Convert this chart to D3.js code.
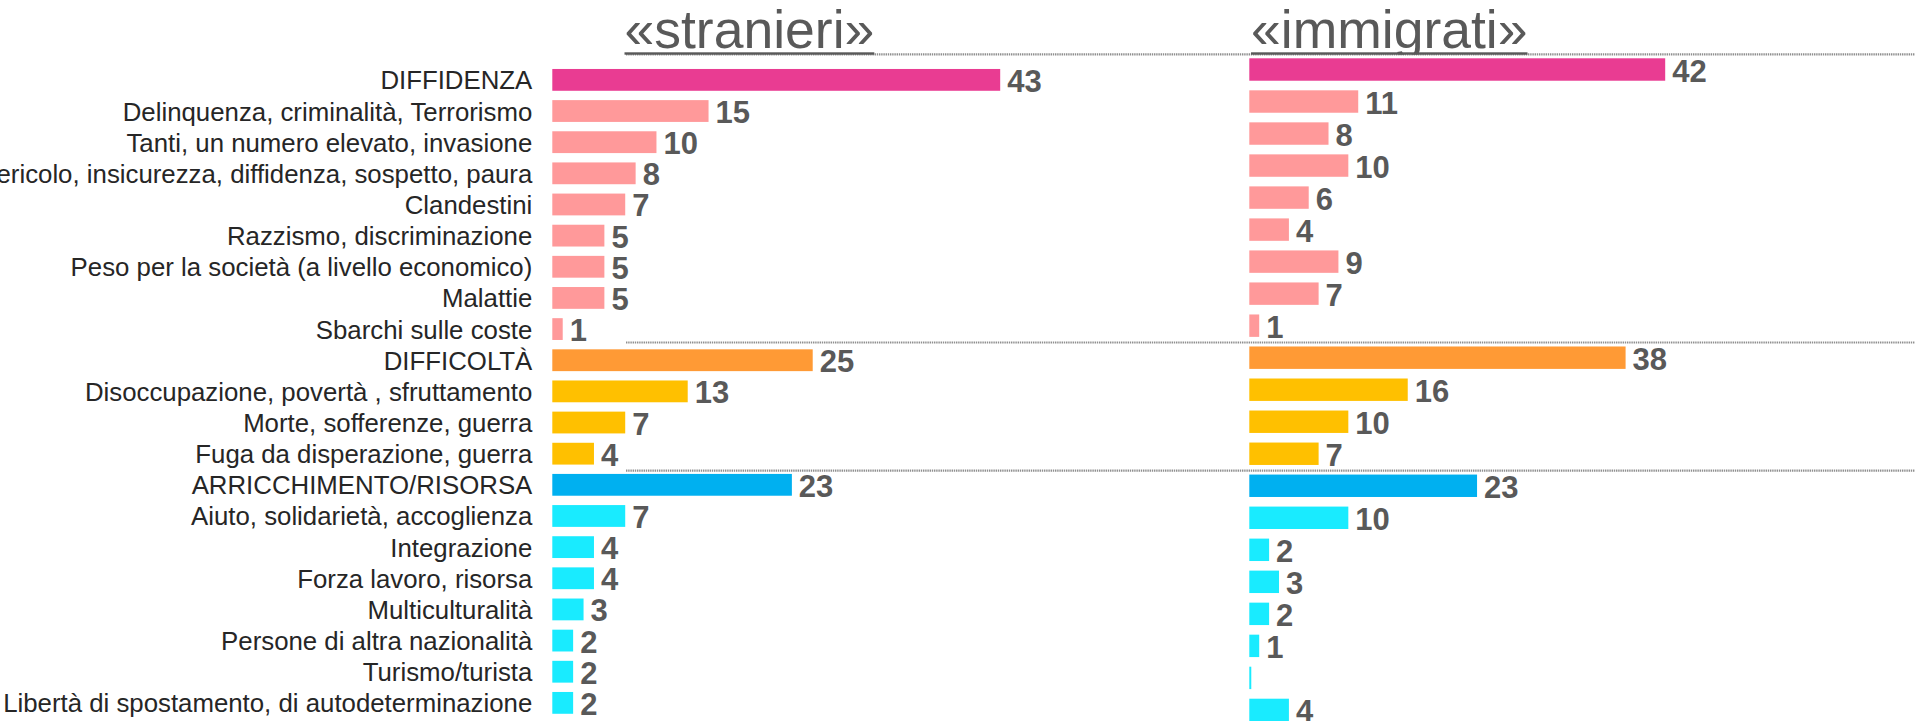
<!DOCTYPE html>
<html><head><meta charset="utf-8">
<script src="https://cdn.jsdelivr.net/npm/d3@7"></script>
<style>html,body{margin:0;padding:0;background:#fff;overflow:hidden;} svg{display:block;}</style>
</head><body>
<svg id="chart" width="1915" height="721"></svg>
<script>
// ---------- DATA ----------
const categories = [
  "DIFFIDENZA",
  "Delinquenza, criminalità, Terrorismo",
  "Tanti, un numero elevato, invasione",
  "Pericolo, insicurezza, diffidenza, sospetto, paura",
  "Clandestini",
  "Razzismo, discriminazione",
  "Peso per la società (a livello economico)",
  "Malattie",
  "Sbarchi sulle coste",
  "DIFFICOLTÀ",
  "Disoccupazione, povertà , sfruttamento",
  "Morte, sofferenze, guerra",
  "Fuga da disperazione, guerra",
  "ARRICCHIMENTO/RISORSA",
  "Aiuto, solidarietà, accoglienza",
  "Integrazione",
  "Forza lavoro, risorsa",
  "Multiculturalità",
  "Persone di altra nazionalità",
  "Turismo/turista",
  "Libertà di spostamento, di autodeterminazione"
];
const categoryGroup = [
  "diffidenza-tot","diffidenza","diffidenza","diffidenza","diffidenza","diffidenza","diffidenza","diffidenza","diffidenza",
  "difficolta-tot","difficolta","difficolta","difficolta",
  "risorsa-tot","risorsa","risorsa","risorsa","risorsa","risorsa","risorsa","risorsa"
];
const seriesTitles = ["«stranieri»", "«immigrati»"];
const stranieri = [43,15,10,8,7,5,5,5,1,25,13,7,4,23,7,4,4,3,2,2,2];
const immigrati = [42,11,8,10,6,4,9,7,1,38,16,10,7,23,10,2,3,2,1,0.2,4];

// ---------- STYLE ----------
const groupColor = {
  "diffidenza-tot": "#E93C92",
  "diffidenza": "#FF999A",
  "difficolta-tot": "#FF9A35",
  "difficolta": "#FFC000",
  "risorsa-tot": "#00B0F0",
  "risorsa": "#19EBFF"
};
const FONT = "'Liberation Sans', Arial, sans-serif";

const svg = d3.select("#chart");
svg.append("defs").append("clipPath").attr("id","titleClip")
  .append("rect").attr("x",0).attr("y",0).attr("width",1915).attr("height",54.6);

const panels = [
  { values: stranieri, title: seriesTitles[0], x0: 552.3, x1: 1000.2, max: 43,
    y0: 64.3, step: 31.15, titleX: 624.5, showCats: true },
  { values: immigrati, title: seriesTitles[1], x0: 1249.3, x1: 1665.2, max: 42,
    y0: 53.5, step: 32.02, titleX: 1251, showCats: false }
];

const idx = d3.range(categories.length);

// separator dotted lines, based on right panel band boundaries
(function(){
  const p = panels[1];
  const y = d3.scaleBand().domain(idx)
    .range([p.y0, p.y0 + p.step * idx.length]).paddingInner(0.3).paddingOuter(0.15);
  const starts = idx.filter(i => categoryGroup[i].endsWith("-tot"));
  svg.append("g").selectAll("line").data(starts).join("line")
    .attr("x1", 626).attr("x2", 1915)
    .attr("y1", d => y(d) - 4).attr("y2", d => y(d) - 4)
    .attr("stroke", "#8f8f8f").attr("stroke-width", 2.2)
    .attr("stroke-dasharray", "1.4,0.8");
})();

panels.forEach(p => {
  const x = d3.scaleLinear().domain([0, p.max]).range([p.x0, p.x1]);
  const y = d3.scaleBand().domain(idx)
    .range([p.y0, p.y0 + p.step * idx.length]).paddingInner(0.3).paddingOuter(0.15);
  const g = svg.append("g");

  g.selectAll("rect.bar").data(idx).join("rect")
    .attr("class","bar")
    .attr("x", x(0))
    .attr("y", i => y(i))
    .attr("width", i => Math.max(0, x(p.values[i]) - x(0)))
    .attr("height", y.bandwidth())
    .attr("fill", i => groupColor[categoryGroup[i]]);

  g.selectAll("text.val").data(idx.filter(i => p.values[i] >= 0.5)).join("text")
    .attr("class","val")
    .attr("x", i => x(p.values[i]) + 7)
    .attr("y", i => y(i) + y.bandwidth()/2 + 12)
    .attr("font-family", FONT).attr("font-weight","bold")
    .attr("font-size", 31).attr("fill", "#595959")
    .text(i => d3.format("d")(Math.round(p.values[i])));

  if (p.showCats) {
    g.selectAll("text.cat").data(idx).join("text")
      .attr("class","cat")
      .attr("x", x(0) - 20)
      .attr("y", i => y(i) + y.bandwidth()/2 + 9.5)
      .attr("text-anchor","end")
      .attr("font-family", FONT).attr("font-size", 25.8).attr("fill", "#262626")
      .text(i => categories[i]);
  }

  const tg = svg.append("g").attr("clip-path","url(#titleClip)");
  const t = tg.append("text")
    .attr("x", p.titleX).attr("y", 48)
    .attr("font-family", FONT).attr("font-size", 53.5).attr("fill", "#595959")
    .text(p.title);
  const len = t.node().getComputedTextLength();
  svg.append("rect")
    .attr("x", p.titleX).attr("y", 52.3).attr("width", len).attr("height", 2.4)
    .attr("fill", "#595959");
});
</script>
</body></html>
